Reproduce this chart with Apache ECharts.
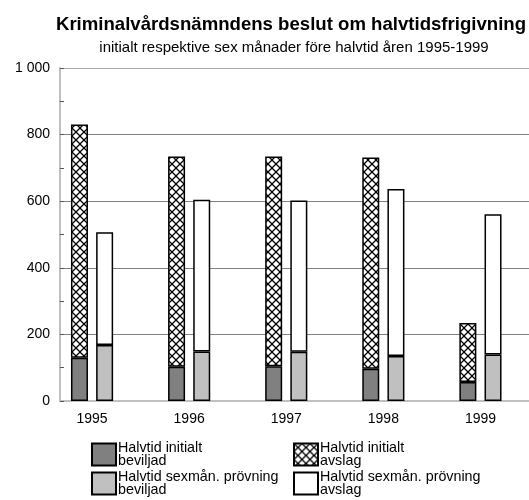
<!DOCTYPE html>
<html>
<head>
<meta charset="utf-8">
<script src="https://cdn.jsdelivr.net/npm/echarts@6/dist/echarts.min.js"></script>
<style>
  html, body { margin: 0; padding: 0; background: #fff; }
  #chart { width: 529px; height: 500px; }
</style>
</head>
<body>
<div id="chart"></div>
<script>
const years = ['1995', '1996', '1997', '1998', '1999'];
const initBeviljad = [130, 103, 104, 97, 57];
const initAvslag = [700, 631, 630, 634, 177];
const sexBeviljad = [168, 149, 148, 135, 140];
const sexAvslag = [339, 455, 454, 502, 421];
const yTicks = [0, 200, 400, 600, 800, 1000];
const names = [
  'Halvtid initialt\nbeviljad',
  'Halvtid initialt\navslag',
  'Halvtid sexmån. prövning\nbeviljad',
  'Halvtid sexmån. prövning\navslag'
];

const FONT = "'Liberation Sans', Arial, sans-serif";

// diamond cross-hatch used for the "avslag" initial series
function hatch() {
  const c = document.createElement('canvas');
  c.width = 8; c.height = 8;
  const g = c.getContext('2d');
  g.fillStyle = '#fff';
  g.fillRect(0, 0, 8, 8);
  g.strokeStyle = '#000';
  g.lineWidth = 1.25;
  g.beginPath();
  g.moveTo(-1, -1); g.lineTo(9, 9);
  g.moveTo(9, -1); g.lineTo(-1, 9);
  g.stroke();
  return { image: c, repeat: 'repeat' };
}

function spaced(v) {
  return String(v).replace(/\B(?=(\d{3})+(?!\d))/g, ' ');
}

// one legend per entry so the 2x2 grid lines up like the original
function legendAt(name, left, top) {
  return {
    left: left, top: top, icon: 'rect', itemWidth: 24, itemHeight: 22, itemGap: 0,
    data: [name],
    textStyle: { fontFamily: FONT, fontSize: 14.3, lineHeight: 13, color: '#000', padding: [0, 0, 0, -3] }
  };
}

const barBase = {
  type: 'bar', xAxisIndex: 1, yAxisIndex: 1, barWidth: 17, barGap: '48%'
};

const chart = echarts.init(document.getElementById('chart'));
chart.setOption({
  animation: false,
  textStyle: { fontFamily: FONT },
  title: [
    { text: 'Kriminalvårdsnämndens beslut om halvtidsfrigivning', left: 286, top: 10, textAlign: 'center',
      textStyle: { fontFamily: FONT, fontSize: 18.6, fontWeight: 'bold', color: '#000' } },
    { text: 'initialt respektive sex månader före halvtid åren 1995-1999', left: 289, top: 35, textAlign: 'center',
      textStyle: { fontFamily: FONT, fontSize: 15, fontWeight: 'normal', color: '#000' } }
  ],
  legend: [
    legendAt(names[0], 86, 436),
    legendAt(names[1], 288, 436),
    legendAt(names[2], 86, 465),
    legendAt(names[3], 288, 465)
  ],
  grid: [
    { left: 60, right: 0, top: 68, bottom: 99 },
    { left: 43.5, width: 500, top: 68, bottom: 99 }
  ],
  xAxis: [
    { gridIndex: 0, type: 'value', min: 0, max: 1,
      axisLine: { show: true, lineStyle: { color: '#c0c0c0', width: 2 } },
      axisTick: { show: false }, axisLabel: { show: false }, splitLine: { show: false } },
    { gridIndex: 1, type: 'category', data: years,
      axisLine: { show: false }, axisTick: { show: false },
      axisLabel: { margin: 11, fontFamily: FONT, fontSize: 14, color: '#000' } }
  ],
  yAxis: [
    { gridIndex: 0, type: 'value', min: yTicks[0], max: yTicks[yTicks.length - 1], interval: 200,
      axisLine: { show: true, lineStyle: { color: '#c0c0c0', width: 2 } },
      axisTick: { show: true, inside: true, length: 4, lineStyle: { color: '#555' } },
      minorTick: { show: true, splitNumber: 2, length: 4, lineStyle: { color: '#555' } },
      axisLabel: { margin: 10, fontFamily: FONT, fontSize: 14, color: '#000', formatter: spaced },
      splitLine: { show: true, lineStyle: { color: ['#808080', '#808080', '#808080', '#808080', '#808080', '#a8a8a8'], width: 1 } } },
    { gridIndex: 1, type: 'value', min: 0, max: 1000, show: false }
  ],
  series: [
    Object.assign({}, barBase, { name: names[0], stack: 'init', data: initBeviljad,
      itemStyle: { color: '#808080', borderColor: '#000', borderWidth: 1.5 } }),
    Object.assign({}, barBase, { name: names[1], stack: 'init', data: initAvslag,
      itemStyle: { color: hatch(), borderColor: '#000', borderWidth: 1.5 } }),
    Object.assign({}, barBase, { name: names[2], stack: 'sex', data: sexBeviljad,
      itemStyle: { color: '#c0c0c0', borderColor: '#000', borderWidth: 1.5 } }),
    Object.assign({}, barBase, { name: names[3], stack: 'sex', data: sexAvslag,
      itemStyle: { color: '#fff', borderColor: '#000', borderWidth: 1.5 } })
  ]
});
</script>
</body>
</html>
